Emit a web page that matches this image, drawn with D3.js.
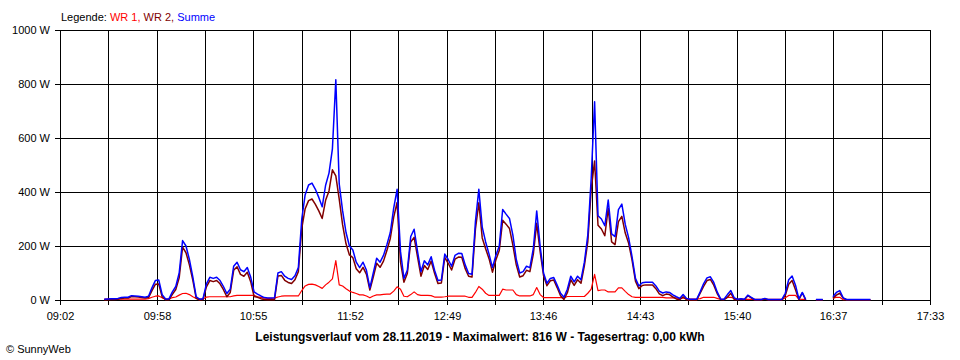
<!DOCTYPE html>
<html><head><meta charset="utf-8">
<script src="https://cdn.jsdelivr.net/npm/d3@7"></script>
<style>
body{margin:0;background:#fff}
svg{display:block}
text{font-family:"Liberation Sans",Arial,sans-serif;font-size:11px}
</style>
</head><body><svg id="chart" width="960" height="360"></svg>
<script>
// ---------- data ----------
const legendPrefix = "Legende:";
const seriesNames = ["WR 1", "WR 2", "Summe"];
const seriesColors = ["#ff0000", "#800000", "#0000ff"];
const axisStart = "09:02";
const axisEnd = "17:33";
const xTickLabels = ["09:02","09:58","10:55","11:52","12:49","13:46","14:43","15:40","16:37","17:33"];
const yTickValues = [0, 200, 400, 600, 800, 1000];
const yTickLabels = ["0 W","200 W","400 W","600 W","800 W","1000 W"];
const sampleStart = "09:28";
const sampleStepMin = 2;
const titleText = "Leistungsverlauf vom 28.11.2019 - Maximalwert: 816 W - Tagesertrag: 0,00 kWh";
const creditText = "\u00A9 SunnyWeb";

const wr1 = [
3,3,3,3,3,3,3,3,3,3,3,3,3,
5,10,14,15,8,3,3,
9,11,18,24,25,20,12,6,3,3,
11,12,12,12,12,12,12,12,15,17,
17,17,17,17,17,12,10,7,6,6,
7,11,14,15,15,15,15,15,35,52,
58,59,56,50,43,56,66,78,146,56,
52,42,33,28,24,19,19,15,8,15,
19,19,21,22,22,33,49,40,14,12,
20,30,20,17,17,17,16,11,11,11,
12,14,14,14,14,14,14,10,10,28,
50,40,25,17,17,17,17,40,37,37,
37,20,15,15,15,15,20,46,20,9,
9,9,9,9,9,8,13,13,13,13,
13,13,25,40,95,35,37,37,30,30,
30,45,45,32,20,12,10,10,10,10,
10,10,10,10,10,8,8,8,8,5,
8,5,3,3,3,5,10,10,10,10,
6,2,2,10,10,6,2,2,2,2,
2,2,2,2,2,2,2,2,2,2,
8,17,17,17,3,2,2,null,null,1,
1,1,null,null,6,10,10,1,1,1,
1,1,1,1,1,1
];
const wr2 = [
0,1,2,2,3,6,7,7,13,12,11,9,7,
9,35,58,59,12,1,1,
21,39,82,196,175,130,74,6,0,2,
49,72,68,72,60,38,12,28,110,123,
95,88,103,68,13,10,5,2,1,1,
1,89,91,73,65,61,75,105,265,338,
368,374,354,330,302,369,404,482,460,374,
278,208,167,157,116,101,121,95,37,85,
136,121,144,183,228,307,361,140,66,98,
215,232,160,88,128,113,144,99,61,63,
158,136,111,151,159,158,116,88,85,262,
360,230,190,153,103,148,183,295,281,265,
203,130,85,90,110,105,170,284,180,91,
53,71,74,46,16,2,27,75,54,75,
62,127,215,410,515,277,263,238,340,215,
205,290,310,248,210,148,70,42,54,56,
56,56,42,23,16,22,20,11,4,1,
12,1,0,0,0,25,50,72,76,55,
24,2,1,10,25,2,1,3,1,16,
8,0,0,0,4,0,0,0,0,0,
17,58,72,38,1,26,0,null,null,1,
1,1,null,null,6,18,25,7,1,1,
1,1,1,1,1,1
];
const summe = [
3,4,5,5,6,9,10,10,16,15,14,12,10,
14,45,72,74,20,4,4,
30,50,100,220,200,150,86,12,3,5,
60,84,80,84,72,50,24,40,125,140,
112,105,120,85,30,22,15,9,7,7,
8,100,105,88,80,76,90,120,300,390,
426,433,410,380,345,425,470,560,816,430,
330,250,200,185,140,120,140,110,45,100,
155,140,165,205,250,340,410,180,80,110,
235,262,180,105,145,130,160,110,72,74,
170,150,125,165,173,172,130,98,95,290,
410,270,215,170,120,165,200,335,318,302,
240,150,100,105,125,120,190,330,200,100,
62,80,83,55,25,10,40,88,67,88,
75,140,240,450,734,312,300,275,370,245,
235,335,355,280,230,160,80,52,64,66,
66,66,52,33,26,30,28,19,12,6,
20,6,3,3,3,30,60,82,86,65,
30,4,3,20,35,8,3,5,3,18,
10,2,2,2,6,2,2,2,2,2,
25,75,89,55,4,28,2,null,null,2,
2,2,null,null,12,28,35,8,2,2,
2,2,2,2,2,2
];

// ---------- chart ----------
const toMin = s => { const [h, m] = s.split(":").map(Number); return h * 60 + m; };
const svg = d3.select("#chart");
const plot = {left: 60, right: 930, top: 30, bottom: 300};

const x = d3.scaleLinear().domain([toMin(axisStart), toMin(axisEnd)]).range([plot.left, plot.right]);
const y = d3.scaleLinear().domain([0, 1000]).range([plot.bottom, plot.top]);

const nGrid = 18;
const gridTimes = d3.range(nGrid + 1).map(i => toMin(axisStart) + i * (toMin(axisEnd) - toMin(axisStart)) / nGrid);

// grid
const grid = svg.append("g").attr("shape-rendering", "crispEdges").attr("stroke", "#000").attr("stroke-width", 1);
gridTimes.forEach(t => {
  const px = Math.round(x(t)) + 0.5;
  grid.append("line").attr("x1", px).attr("x2", px).attr("y1", plot.top).attr("y2", plot.bottom);
});
yTickValues.forEach(v => {
  const py = Math.round(y(v)) + 0.5;
  grid.append("line").attr("x1", plot.left).attr("x2", plot.right + 1).attr("y1", py).attr("y2", py);
});

// axes
const xAxis = d3.axisBottom(x)
  .tickValues(gridTimes)
  .tickSizeInner(5).tickSizeOuter(0).tickPadding(7)
  .tickFormat((d, i) => i % 2 === 0 ? xTickLabels[i / 2] : "");
const gx = svg.append("g").attr("transform", `translate(0,${plot.bottom})`).call(xAxis);

const yAxis = d3.axisLeft(y)
  .tickValues(yTickValues)
  .tickSizeInner(5).tickSizeOuter(0).tickPadding(5)
  .tickFormat((d, i) => yTickLabels[i]);
const gy = svg.append("g").attr("transform", `translate(${plot.left},0)`).call(yAxis);

[gx, gy].forEach(g => {
  g.select(".domain").remove();
  g.selectAll(".tick line").attr("stroke", "#000").attr("shape-rendering", "crispEdges");
  g.selectAll(".tick text").attr("fill", "#000")
    .style("font-family", '"Liberation Sans",Arial,sans-serif').style("font-size", "11px");
});
gx.selectAll(".tick").attr("transform", d => `translate(${Math.round(x(d)) + 0.5},0)`);
gy.selectAll(".tick").attr("transform", d => `translate(0,${Math.round(y(d)) + 0.5})`);

// series
const t0 = toMin(sampleStart);
const makeRows = arr => arr.map((v, i) => ({t: t0 + i * sampleStepMin, v}));
const line = d3.line()
  .defined(d => d.v != null)
  .x(d => x(d.t))
  .y(d => y(d.v))
  .curve(d3.curveLinear);

const allSeries = [wr1, wr2, summe];
const widths = [1.2, 1.5, 1.5];
allSeries.forEach((arr, k) => {
  svg.append("path")
    .datum(makeRows(arr))
    .attr("fill", "none")
    .attr("stroke", seriesColors[k])
    .attr("stroke-width", widths[k])
    .attr("stroke-linejoin", "round")
    .attr("d", line);
});

// legend
const leg = svg.append("text").attr("x", 61).attr("y", 21);
leg.append("tspan").attr("fill", "#000").text(legendPrefix + " ");
seriesNames.forEach((n, i) => {
  leg.append("tspan").attr("fill", seriesColors[i]).text(n + (i < seriesNames.length - 1 ? ", " : ""));
});

// title & credit
svg.append("text").attr("x", 480).attr("y", 341).attr("text-anchor", "middle")
  .style("font-weight", "bold").style("font-size", "12px").attr("fill", "#000").text(titleText);
svg.append("text").attr("x", 6).attr("y", 353).attr("fill", "#000").text(creditText);
</script>
</body></html>
